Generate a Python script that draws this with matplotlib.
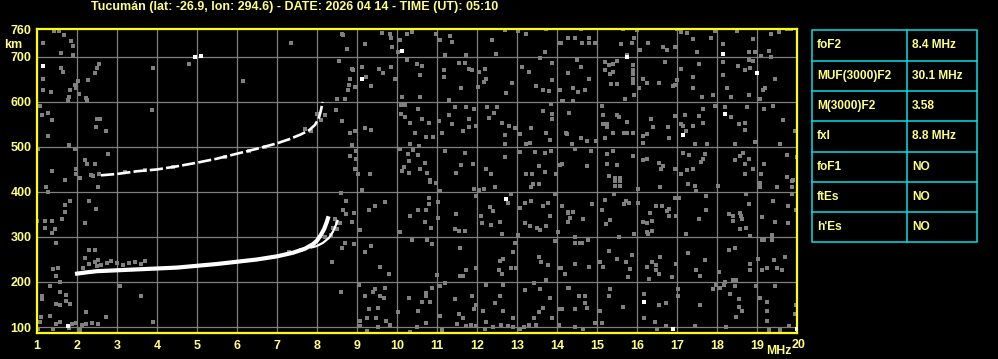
import numpy as np
import matplotlib
matplotlib.use("Agg")
import matplotlib.pyplot as plt
import matplotlib.transforms as mtransforms
from matplotlib.patches import Rectangle

# ---------------- data ----------------
title = "Tucumán (lat: -26.9, lon: 294.6) - DATE: 2026 04 14 - TIME (UT): 05:10"
x_ticks = list(range(1, 21))
y_ticks = [100, 200, 300, 400, 500, 600, 700, 760]

# first-hop F2 trace (ordinary)
o_freq = [1.95, 2.2, 2.5, 3.0, 3.5, 4.0, 4.5, 5.0, 5.5, 6.0, 6.5, 7.0, 7.4, 7.7, 7.9, 8.0, 8.1, 8.18, 8.24, 8.29]
o_height = [218, 221, 224, 226, 228, 230, 232, 236, 240, 245, 250, 257, 265, 274, 284, 292, 305, 318, 332, 346]
# extraordinary branch
x_freq = [7.83, 8.0, 8.15, 8.3, 8.4, 8.47, 8.52]
x_height = [276, 280, 287, 298, 312, 326, 338]
# second-hop trace
h2_freq = [2.6, 3.0, 3.5, 4.0, 4.5, 5.0, 5.5, 6.0, 6.5, 7.0, 7.3, 7.6, 7.8, 7.95, 8.05, 8.1, 8.14]
h2_height = [437, 440, 446, 450, 457, 465, 474, 485, 496, 508, 517, 528, 537, 549, 565, 582, 600]

# scattered echoes (freq MHz, height km)
noise_left = [(1.08, 590), (1.13, 572), (1.28, 575), (1.38, 559), (1.28, 525), (1.8, 610), (2.23, 608),
              (2.5, 562), (2.58, 562), (2.48, 545), (2.73, 536), (3.88, 581), (1.8, 505), (1.94, 495),
              (1.03, 495), (2.19, 472), (2.25, 462), (2.44, 462), (2.78, 485), (1.38, 446), (1.97, 450),
              (1.98, 440), (2.08, 432), (2.36, 437), (1.7, 427), (2.53, 412), (1.23, 412), (1.27, 401),
              (1.7, 371), (1.83, 380), (2.3, 380), (2.48, 362), (1.7, 355), (1.0, 335), (1.19, 335),
              (1.38, 335), (1.63, 339), (2.19, 331), (1.19, 320), (1.44, 318), (1.38, 309), (1.48, 286),
              (2.31, 271), (2.44, 271), (2.19, 254), (2.53, 249), (1.4, 228), (1.53, 232), (1.48, 214),
              (1.58, 199), (1.33, 190), (1.73, 171), (1.58, 177), (1.13, 168), (1.13, 163), (1.83, 151),
              (1.48, 151), (1.58, 148), (1.73, 157), (2.23, 133), (2.73, 122), (2.53, 107), (2.38, 110),
              (2.22, 107), (1.98, 110), (1.88, 107), (1.8, 97), (1.58, 111), (1.48, 107), (1.33, 125),
              (1.11, 122), (1.4, 95), (2.13, 105), (2.07, 94), (3.61, 168), (3.08, 190), (3.9, 111),
              (1.08, 111), (1.03, 95), (1.16, 732), (1.43, 758), (1.56, 758), (1.68, 749), (1.84, 736),
              (1.91, 724), (1.59, 708), (1.89, 704), (1.16, 650), (1.16, 627), (1.59, 675), (1.66, 666),
              (1.34, 621), (1.83, 627), (1.95, 638), (2.06, 617), (1.78, 605), (2.26, 604), (2.03, 647),
              (1.98, 631), (2.56, 684), (2.51, 675), (2.45, 664), (2.28, 649), (3.91, 675), (4.81, 684),
              (6.14, 647), (7.34, 732), (8.66, 749), (8.56, 690), (8.74, 717), (8.81, 638), (8.91, 671)]
noise_halo = [(2.3, 240), (2.45, 245), (2.6, 238), (2.75, 242), (2.85, 247), (3.0, 243), (3.15, 238),
              (3.3, 242), (3.45, 245), (3.6, 240), (3.7, 246), (2.15, 232), (2.5, 236), (2.4, 436),
              (2.55, 440), (3.2, 444), (3.7, 449), (4.4, 455), (5.7, 478), (6.3, 490), (6.7, 500),
              (7.7, 540), (7.85, 535), (8.1, 560), (8.2, 570), (8.0, 573), (6.9, 255), (7.3, 266),
              (7.6, 270), (8.2, 300), (8.35, 305), (8.4, 320), (8.45, 340), (8.5, 330)]
noise_mid_top = [(8.63, 752), (8.75, 718), (9.19, 728), (9.63, 753), (9.83, 752), (9.86, 741), (9.88, 722),
                 (10.03, 711), (10.08, 737), (10.25, 752), (10.38, 756), (10.25, 693), (10.5, 685),
                 (10.63, 679), (10.58, 659), (10.98, 752), (11.07, 737), (11.33, 746), (11.38, 733),
                 (11.19, 704), (11.55, 687), (11.73, 704), (11.69, 687), (11.8, 674), (11.88, 670),
                 (12.04, 667), (12.19, 673), (12.17, 644), (12.23, 652), (12.02, 633), (12.38, 737),
                 (12.48, 707), (12.69, 759), (12.88, 642), (12.73, 619), (13.03, 758), (13.23, 750),
                 (13.13, 678), (13.29, 667), (13.48, 635), (13.65, 627), (13.8, 624), (13.88, 648),
                 (13.88, 687), (13.69, 711), (13.58, 698), (13.73, 761), (14.08, 730), (14.07, 626),
                 (14.13, 602), (9.13, 678), (8.88, 674), (8.83, 652), (8.94, 633), (8.78, 626), (8.5, 607),
                 (8.69, 607), (9.23, 656), (9.36, 635), (9.55, 674), (9.65, 664), (9.84, 678), (9.94, 652),
                 (10.13, 611), (10.58, 611), (11.17, 672), (11.17, 656), (11.59, 630), (11.29, 605),
                 (8.48, 581), (8.63, 558), (8.83, 531), (8.94, 536), (9.19, 541), (9.34, 537), (8.88, 504),
                 (10.09, 593), (10.19, 593), (10.09, 573), (10.19, 567), (10.53, 585), (10.33, 553),
                 (10.44, 531), (10.63, 563), (10.79, 553), (10.73, 522), (10.9, 522), (10.33, 506),
                 (10.55, 501), (11.04, 558), (11.13, 530), (11.29, 570), (11.38, 550), (11.44, 589),
                 (11.65, 535), (11.73, 589), (11.8, 561), (11.8, 544), (11.92, 585), (11.98, 546),
                 (12.25, 589), (12.3, 565), (12.42, 576), (12.63, 553), (12.69, 526), (12.81, 546),
                 (12.94, 543), (12.71, 507), (12.5, 589), (13.36, 541), (13.65, 580), (13.73, 531),
                 (13.88, 561), (13.88, 573), (13.85, 595), (14.22, 531), (13.82, 516), (13.08, 528),
                 (13.23, 507), (13.33, 509), (8.97, 491), (8.98, 474), (8.83, 479), (8.94, 452), (9.03, 439),
                 (9.33, 441), (10.08, 496), (10.28, 485), (10.4, 493), (10.53, 483), (10.29, 468),
                 (10.69, 465), (10.58, 452), (10.17, 456), (10.13, 447), (10.3, 442), (10.75, 443),
                 (10.83, 426), (11.19, 491), (11.69, 487), (11.59, 461), (11.48, 443), (11.9, 463),
                 (12.22, 450), (12.34, 439), (12.69, 478), (13.08, 489), (13.23, 439), (13.38, 439),
                 (13.44, 489), (13.69, 487), (13.84, 491), (13.55, 457), (13.69, 444), (14.08, 461),
                 (13.98, 441)]
noise_right_top = [(14.09, 730), (14.28, 743), (14.45, 741), (14.59, 761), (14.62, 730), (14.81, 741),
                   (14.81, 730), (14.95, 730), (14.49, 693), (14.59, 678), (14.28, 664), (14.81, 652),
                   (14.41, 630), (14.53, 622), (14.7, 626), (14.16, 602), (14.39, 602), (15.64, 761),
                   (15.59, 728), (15.87, 730), (15.93, 741), (16.01, 759), (16.08, 716), (15.74, 704),
                   (16.28, 730), (16.64, 721), (16.74, 716), (16.95, 721), (16.99, 761), (17.09, 756),
                   (17.24, 753), (17.39, 739), (17.49, 711), (17.84, 743), (17.95, 758), (18.14, 728),
                   (18.49, 758), (18.89, 739), (18.81, 711), (18.95, 711), (19.09, 701), (19.31, 713),
                   (19.34, 699), (19.34, 751), (19.56, 755), (19.74, 761), (19.84, 761), (15.2, 689),
                   (15.31, 681), (15.41, 684), (15.49, 691), (15.2, 670), (15.33, 663), (15.39, 667),
                   (15.91, 681), (15.91, 672), (15.91, 661), (15.91, 652), (15.91, 642), (15.34, 639),
                   (15.51, 639), (15.7, 607), (15.93, 615), (16.05, 630), (16.16, 652), (16.26, 641),
                   (16.56, 642), (16.7, 689), (16.91, 635), (16.95, 637), (16.99, 648), (17.09, 674),
                   (17.39, 656), (17.41, 630), (17.62, 611), (17.56, 685), (17.89, 615), (18.14, 689),
                   (18.14, 659), (18.26, 630), (18.34, 611), (18.53, 679), (18.7, 672), (18.82, 676),
                   (18.81, 693), (18.9, 691), (18.81, 615), (19.07, 607), (19.15, 626), (19.2, 630),
                   (19.45, 652), (15.12, 590), (15.14, 570), (15.24, 550), (15.24, 544), (15.16, 550),
                   (15.51, 570), (15.56, 566), (15.74, 556), (15.67, 531), (15.74, 531), (15.89, 531),
                   (15.39, 531), (15.2, 519), (14.3, 576), (14.23, 531), (14.26, 528), (14.59, 519),
                   (14.74, 513), (14.97, 513), (14.37, 506), (16.14, 524), (16.26, 528), (16.16, 509),
                   (16.34, 563), (16.39, 544), (16.78, 544), (16.95, 568), (16.81, 519), (17.09, 550),
                   (17.2, 572), (17.16, 546), (17.23, 536), (17.41, 547), (17.54, 568), (17.64, 553),
                   (17.66, 585), (17.45, 506), (17.74, 506), (17.95, 590), (18.2, 589), (18.34, 567),
                   (18.56, 550), (18.7, 553), (18.7, 537), (18.74, 589), (18.45, 506), (18.95, 511),
                   (19.18, 585), (19.39, 590), (19.66, 559), (19.58, 506), (19.95, 536), (14.12, 463),
                   (14.45, 496), (14.84, 491), (14.76, 457), (15.24, 484), (15.39, 491), (15.24, 463),
                   (15.51, 461), (15.31, 435), (15.45, 430), (15.57, 430), (15.89, 479), (16.14, 470),
                   (16.26, 474), (16.56, 464), (16.64, 457), (16.59, 452), (16.95, 452), (17.16, 487),
                   (17.29, 481), (17.69, 485), (17.59, 467), (17.66, 474), (17.24, 448), (17.09, 439),
                   (17.39, 452), (18.45, 472), (18.64, 487), (18.57, 480), (18.7, 463), (18.81, 474),
                   (18.89, 452), (18.7, 439), (19.18, 463), (19.09, 439), (19.74, 481), (19.76, 433),
                   (19.89, 427), (19.99, 478)]
noise_mid_low = [(8.61, 398), (8.72, 380), (8.66, 361), (8.73, 350), (8.92, 354), (8.88, 333), (8.57, 332),
                 (8.5, 317), (8.69, 287), (8.92, 284), (8.63, 276), (8.38, 244), (8.61, 178), (9.13, 404),
                 (9.44, 369), (9.3, 361), (9.69, 378), (9.08, 316), (9.19, 267), (9.36, 280), (9.58, 234),
                 (9.8, 217), (9.69, 187), (9.05, 193), (9.44, 185), (9.4, 178), (9.19, 169), (9.57, 170),
                 (9.68, 165), (9.52, 143), (9.3, 141), (9.25, 119), (9.08, 113), (9.48, 119), (9.72, 113),
                 (9.83, 104), (9.53, 99), (9.25, 91), (9.07, 102), (10.03, 133), (10.08, 311), (10.33, 347),
                 (10.38, 293), (10.53, 360), (10.73, 360), (10.8, 373), (10.8, 387), (10.83, 422),
                 (10.69, 333), (10.86, 319), (10.75, 293), (10.88, 284), (10.29, 165), (10.52, 136),
                 (10.73, 176), (10.73, 169), (10.83, 156), (10.63, 156), (10.72, 108), (10.5, 99),
                 (10.32, 89), (10.97, 419), (11.07, 402), (11.03, 378), (11.03, 343), (11.48, 350),
                 (11.44, 317), (11.55, 313), (11.69, 313), (11.57, 276), (11.73, 227), (11.57, 213),
                 (11.65, 213), (11.0, 215), (11.19, 197), (11.07, 190), (10.88, 187), (11.44, 163),
                 (11.55, 130), (11.65, 119), (11.72, 102), (11.97, 102), (11.86, 104), (11.5, 106),
                 (11.07, 124), (11.13, 93), (11.88, 169), (11.98, 150), (11.92, 139), (12.15, 136),
                 (12.22, 111), (11.98, 232), (11.98, 391), (11.92, 407), (12.05, 404), (12.17, 406),
                 (12.44, 412), (12.86, 395), (12.78, 376), (12.33, 367), (12.4, 358), (12.1, 347),
                 (12.13, 332), (12.35, 326), (12.57, 333), (12.63, 306), (12.65, 252), (12.94, 287),
                 (12.9, 267), (12.57, 247), (12.55, 227), (12.63, 217), (12.85, 230), (12.98, 230),
                 (12.65, 193), (12.58, 170), (12.44, 153), (12.22, 193), (12.65, 136), (12.9, 119),
                 (12.6, 104), (12.77, 102), (12.9, 99), (12.4, 99), (12.2, 96), (13.08, 365), (13.19, 376),
                 (13.35, 380), (13.39, 417), (13.55, 417), (13.35, 412), (13.78, 376), (13.65, 369),
                 (13.82, 347), (13.94, 395), (13.19, 332), (13.32, 324), (13.5, 321), (13.58, 316),
                 (13.73, 324), (14.03, 311), (13.02, 304), (13.94, 291), (14.08, 232), (14.19, 217),
                 (13.55, 256), (13.61, 244), (13.78, 237), (13.73, 204), (13.42, 197), (13.57, 184),
                 (13.19, 182), (13.82, 165), (13.65, 143), (13.55, 133), (14.08, 139), (13.88, 119),
                 (13.42, 119), (13.3, 104), (13.48, 104), (14.05, 104), (13.07, 96), (13.17, 101),
                 (14.27, 187), (14.27, 354)]
noise_right_low = [(15.44, 424), (15.58, 424), (15.44, 413), (15.58, 413), (15.42, 395), (16.03, 406),
                   (16.03, 376), (16.58, 412), (17.28, 417), (17.44, 413), (17.48, 402), (18.03, 413),
                   (19.08, 421), (19.08, 412), (19.5, 410), (19.88, 424), (19.88, 412), (14.13, 369),
                   (14.28, 356), (14.39, 356), (14.32, 343), (14.28, 333), (14.65, 341), (14.88, 373),
                   (15.13, 360), (15.19, 382), (15.33, 338), (15.23, 328), (15.67, 373), (15.73, 380),
                   (15.8, 376), (16.15, 333), (16.25, 332), (16.38, 335), (16.33, 354), (16.47, 369),
                   (16.63, 369), (16.75, 358), (16.8, 347), (16.98, 347), (16.94, 387), (17.05, 387),
                   (16.8, 363), (16.25, 311), (16.38, 313), (16.28, 306), (15.92, 306), (17.23, 306),
                   (17.55, 339), (17.73, 391), (17.73, 360), (18.3, 350), (18.4, 335), (18.4, 347),
                   (18.58, 354), (18.61, 347), (18.63, 341), (18.72, 395), (18.8, 373), (18.58, 317),
                   (18.72, 319), (18.83, 302), (19.13, 345), (19.4, 380), (19.44, 333), (19.78, 369),
                   (19.78, 330), (19.37, 304), (19.37, 293), (19.18, 293), (19.88, 395), (19.98, 360),
                   (14.44, 301), (14.44, 287), (14.58, 287), (14.63, 286), (14.78, 293), (15.55, 301),
                   (15.3, 269), (15.5, 252), (15.73, 244), (15.88, 261), (15.83, 228), (15.78, 212),
                   (15.07, 244), (15.15, 234), (14.44, 239), (14.8, 234), (14.19, 217), (14.11, 232),
                   (16.25, 234), (16.38, 244), (16.48, 237), (16.58, 256), (16.47, 227), (16.55, 217),
                   (16.3, 207), (16.88, 212), (16.98, 241), (17.27, 264), (17.48, 227), (17.69, 249),
                   (17.58, 213), (18.05, 222), (18.19, 199), (18.3, 271), (18.44, 276), (18.4, 204),
                   (18.48, 204), (18.83, 239), (18.83, 227), (19.03, 252), (19.13, 227), (19.25, 230),
                   (19.5, 230), (19.63, 227), (19.69, 256), (19.43, 249), (19.13, 293), (14.3, 187),
                   (14.55, 169), (14.7, 169), (14.7, 153), (14.74, 143), (14.45, 139), (14.12, 139),
                   (15.3, 169), (15.33, 185), (15.65, 145), (15.08, 136), (15.13, 108), (14.94, 108),
                   (14.44, 99), (14.65, 95), (16.18, 173), (16.18, 119), (16.55, 148), (16.73, 153),
                   (16.44, 111), (16.72, 102), (16.5, 95), (17.03, 185), (17.03, 170), (17.44, 102),
                   (17.58, 148), (17.9, 184), (18.07, 187), (17.98, 193), (18.17, 193), (18.33, 173),
                   (18.44, 190), (18.55, 163), (18.55, 145), (18.48, 123), (18.63, 136), (18.22, 99),
                   (18.97, 190), (19.08, 165), (19.25, 156), (19.25, 136), (19.25, 113), (19.44, 191),
                   (19.3, 93), (19.57, 93), (19.8, 102), (19.94, 128), (19.98, 150)]
white_dots = [(4.95, 700), (5.1, 701), (1.16, 680), (18.14, 707), (18.99, 664), (18.2, 573), (17.14, 526),
              (16.18, 156), (16.9, 95), (19.99, 96), (12.73, 385), (10.13, 713), (1.78, 103), (15.74, 699),
              (9.13, 650)]

table_labels = ["foF2", "MUF(3000)F2", "M(3000)F2", "fxI", "foF1", "ftEs", "h'Es"]
table_values = ["8.4 MHz", "30.1 MHz", "3.58", "8.8 MHz", "NO", "NO", "NO"]

# ---------------- style ----------------
W, H = 998, 359
YEL = "#ffff80"
SPINE = "#ffff00"
GRAY = "#808080"
CYAN = "#00e0e8"
FONT = ["Liberation Sans", "DejaVu Sans"]

plt.rcParams["font.family"] = FONT
fig = plt.figure(figsize=(W / 100, H / 100), dpi=100, facecolor="black")

ax = fig.add_axes([37 / W, (H - 333) / H, 760 / W, 304 / H], facecolor="black")
ax.set_xlim(1, 20)
ax.set_ylim(86.7, 762)

for v in range(2, 20):
    ax.axvline(v, color=GRAY, lw=0.9, zorder=1)
for v in range(100, 800, 100):
    ax.axhline(v, color=GRAY, lw=0.9, zorder=1)

gray_pts = np.array(noise_left + noise_halo + noise_mid_top + noise_right_top + noise_mid_low + noise_right_low)
ax.scatter(gray_pts[:, 0], gray_pts[:, 1], marker="s", s=5.0, c=GRAY, linewidths=0, zorder=2)
wd = np.array(white_dots)
ax.scatter(wd[:, 0], wd[:, 1], marker="s", s=7.0, c="white", linewidths=0, zorder=3)

ax.plot(o_freq, o_height, color="white", lw=3.0, solid_capstyle="butt", zorder=4)
ax.plot(x_freq, x_height, color="white", lw=1.6, solid_capstyle="butt", zorder=4)
ax.plot(h2_freq, h2_height, color="white", lw=1.9, dashes=(5, 1.2), solid_capstyle="butt", zorder=4)

for s in ax.spines.values():
    s.set_color(SPINE)
    s.set_linewidth(1.6)

ax.set_xticks(x_ticks)
ax.set_xticklabels([str(v) for v in x_ticks])
ax.set_yticks(y_ticks)
ax.set_yticklabels([str(v) for v in y_ticks])
ax.tick_params(length=0, colors=YEL, labelsize=9)
ax.tick_params(axis="x", pad=5)
ax.tick_params(axis="y", pad=4)
for lab in ax.get_xticklabels() + ax.get_yticklabels():
    lab.set_fontweight("bold")
last = ax.get_xticklabels()[-1]
last.set_transform(last.get_transform() + mtransforms.ScaledTranslation(2 / 100, 1 / 100, fig.dpi_scale_trans))

fig.text(13 / W, 1 - 45 / H, "km", color=YEL, fontsize=9, fontweight="bold", ha="center", va="center")
fig.text(779 / W, 1 - 351.5 / H, "MHz", color=YEL, fontsize=8.8, fontweight="bold", ha="center", va="center")
fig.text(295 / W, 1 - 7 / H, title, color=YEL, fontsize=9.0, fontweight="bold", ha="center", va="center")

# parameter table
tab = fig.add_axes([0, 0, 1, 1], facecolor="none")
tab.set_xlim(0, W)
tab.set_ylim(H, 0)
tab.axis("off")
x0, xm, x1 = 812, 907, 977
y0, rh = 30.3, 30.3
n = len(table_labels)
tab.add_patch(Rectangle((x0, y0), x1 - x0, rh * n, fill=False, edgecolor=CYAN, lw=1.1))
tab.plot([xm, xm], [y0, y0 + rh * n], color=CYAN, lw=1.1)
for i in range(1, n):
    tab.plot([x0, x1], [y0 + rh * i, y0 + rh * i], color=CYAN, lw=1.1)
for i, (lab, val) in enumerate(zip(table_labels, table_values)):
    yc = y0 + rh * (i + 0.5)
    tab.text(x0 + 5, yc, lab, color=YEL, fontsize=8.6, fontweight="bold", va="center", ha="left")
    tab.text(xm + 5, yc, val, color=YEL, fontsize=8.6, fontweight="bold", va="center", ha="left")

fig.savefig("out.png", dpi=100, facecolor="black")
